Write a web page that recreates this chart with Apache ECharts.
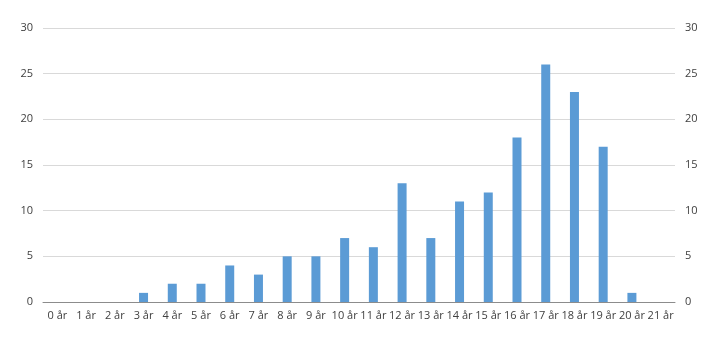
<!DOCTYPE html>
<html>
<head>
<meta charset="utf-8">
<script src="https://cdn.jsdelivr.net/npm/echarts@6/dist/echarts.min.js"></script>
<style>
html,body{margin:0;padding:0;background:#fff;}
#chart{width:720px;height:341px;}
</style>
</head>
<body>
<div id="chart"></div>
<script>
const categories = ['0 år','1 år','2 år','3 år','4 år','5 år','6 år','7 år','8 år','9 år','10 år','11 år','12 år','13 år','14 år','15 år','16 år','17 år','18 år','19 år','20 år','21 år'];
const counts = [0,0,0,1,2,2,4,3,5,5,7,6,13,7,11,12,18,26,23,17,1,0];

const chart = echarts.init(document.getElementById('chart'), null, {renderer:'canvas'});
const labelStyle = {color:'#404040', fontSize:11, fontFamily:'"Open Sans", "DejaVu Sans", sans-serif'};
chart.setOption({
  animation:false,
  grid:{left:43, right:45, top:28, bottom:39},
  xAxis:{
    type:'category',
    data:categories,
    axisTick:{show:false},
    axisLine:{lineStyle:{color:'#8c8c8c', width:1}},
    axisLabel:Object.assign({margin:8, interval:0}, labelStyle)
  },
  yAxis:[
    {type:'value', min:0, max:30, interval:5, position:'left',
     axisLine:{show:false}, axisTick:{show:false},
     axisLabel:Object.assign({margin:10}, labelStyle),
     splitLine:{lineStyle:{color:'#d9d9d9', width:1}}},
    {type:'value', min:0, max:30, interval:5, position:'right',
     axisLine:{show:false}, axisTick:{show:false},
     axisLabel:Object.assign({margin:10}, labelStyle),
     splitLine:{show:false}}
  ],
  series:[{
    type:'bar',
    data:counts,
    barWidth:9,
    itemStyle:{color:'#5b9bd5'}
  }]
});
</script>
</body>
</html>
